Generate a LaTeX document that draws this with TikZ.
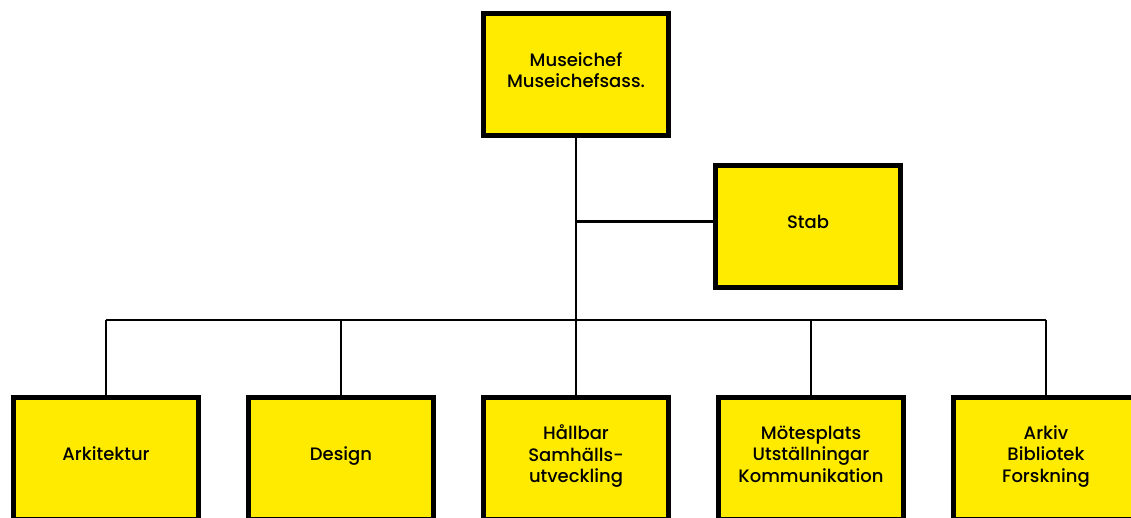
\documentclass[tikz,border=0pt]{standalone}
\usepackage{fontspec}
\setmainfont{Poppins}[BoldFont={Poppins Medium}]
\usepackage{xcolor}
\usepackage{tikz}
\usetikzlibrary{positioning,calc}

\definecolor{museumyellow}{RGB}{255,235,0}

\begin{document}
\begin{tikzpicture}[
    x=1pt, y=-1pt,
    node distance=45pt,
    unit/.style={rectangle, draw=black, fill=museumyellow, line width=5pt, minimum width=185pt, minimum height=122pt, align=center, text depth=9pt, font=\fontsize{18}{21.5}\selectfont\bfseries},
    link/.style={draw=black, line width=2.5pt}
]
    \useasboundingbox (0,0) rectangle (1131,518);

    % Ledning
    \node[unit] (chef) at (576,74.5) {Museichef\\Museichefsass.};
    \node[unit, right=42pt of chef, yshift=-152pt] (stab) {Stab};

    % Avdelningar
    \node[unit] (hallbar) at (576,458.5) {Hållbar\\Samhälls-\\utveckling};
    \node[unit, left=of hallbar] (design) {Design};
    \node[unit, left=of design] (arkitektur) {Arkitektur};
    \node[unit, right=of hallbar] (motesplats) {Mötesplats\\Utställningar\\Kommunikation};
    \node[unit, right=of motesplats] (arkiv) {Arkiv\\Bibliotek\\Forskning};

    \coordinate (bus) at (576,320);

    % Linjer
    \draw[link] (chef.south) -- (hallbar.north);
    \draw[link] ([yshift=5pt]stab.west) -| (chef.south);
    \draw[link] (arkitektur |- bus) -- (arkiv |- bus);
    \draw[link] (arkitektur |- bus) -- (arkitektur.north);
    \draw[link] (design |- bus) -- (design.north);
    \draw[link] (motesplats |- bus) -- (motesplats.north);
    \draw[link] (arkiv |- bus) -- (arkiv.north);
\end{tikzpicture}
\end{document}
